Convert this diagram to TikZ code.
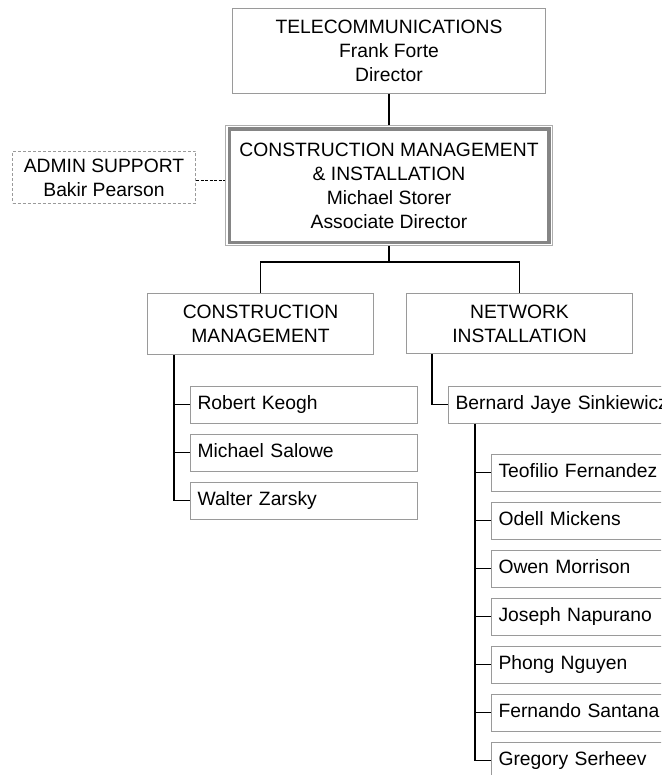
\documentclass[tikz,border=0pt]{standalone}
\usepackage{fontspec}
\setmainfont{Liberation Sans}
\definecolor{boxgray}{HTML}{9A9A9A}
\definecolor{thickgray}{HTML}{858585}
\begin{document}
\begin{tikzpicture}[x=1pt,y=-1pt,
  font=\fontsize{19.3}{24}\selectfont,
  cbox/.style={draw=boxgray, line width=1pt, anchor=north west, align=center, inner sep=2pt},
  pbox/.style={draw=boxgray, line width=1pt, anchor=north west, inner xsep=7pt, inner ysep=0pt,
     text width=213pt, align=left, minimum width=227pt, minimum height=36.5pt,
     text height=14pt, text depth=4pt},
  conn/.style={draw=black, line width=1.1pt}]
\useasboundingbox (0,0) rectangle (661,775);
\clip (0,0) rectangle (661,775);

\node[cbox, minimum width=313pt, minimum height=85pt] (telecom) at (232,8)
  {TELECOMMUNICATIONS\\Frank Forte\\Director};
\node[cbox, draw=boxgray!80, minimum width=327pt, minimum height=120pt] (main) at (225,125)
  {CONSTRUCTION MANAGEMENT\\\& INSTALLATION\\Michael Storer\\Associate Director};
\draw[thickgray, line width=3.5pt] ([shift={(4.5,4)}]main.north west) rectangle ([shift={(-4,-3.5)}]main.south east);
\node[cbox, dashed, dash pattern=on 3pt off 2pt, minimum width=183pt, minimum height=52pt] (admin) at (12,151)
  {ADMIN SUPPORT\\Bakir Pearson};
\node[cbox, minimum width=226pt, minimum height=61pt] (cm) at (147,293)
  {CONSTRUCTION\\MANAGEMENT};
\node[cbox, minimum width=226pt, minimum height=60pt] (ni) at (406,293)
  {NETWORK\\INSTALLATION};

\node[pbox] (robert) at (190,386) {Robert Keogh};
\node[pbox] (michael) at (190,434) {Michael Salowe};
\node[pbox] (walter) at (190,482) {Walter Zarsky};

\node[pbox] (bernard) at (448,386) {Bernard Jaye Sinkiewicz};

\node[pbox] (teofilio) at (491,454) {Teofilio Fernandez};
\node[pbox] (odell) at (491,502) {Odell Mickens};
\node[pbox] (owen) at (491,550) {Owen Morrison};
\node[pbox] (joseph) at (491,598) {Joseph Napurano};
\node[pbox] (phong) at (491,646) {Phong Nguyen};
\node[pbox] (fernando) at (491,694) {Fernando Santana};
\node[pbox] (gregory) at (491,742) {Gregory Serheev};

% connectors
\draw[conn] (telecom.south) -- (main.north);
\coordinate (bar) at (main.south |- 0,262);
\draw[conn] (main.south) -- (bar);
\draw[conn] (cm.north) |- (bar) -| (ni.north);
\draw[conn, dash pattern=on 3pt off 1.5pt] ([yshift=-3pt]admin.east) -- ([yshift=-3pt]admin.east -| main.west);

\draw[conn] ([xshift=27pt]cm.south west) |- (walter.west);
\foreach \n in {robert,michael}
  \draw[conn] (\n.west) -- ++(-16,0);

\draw[conn] ([xshift=26pt]ni.south west) |- (bernard.west);

\draw[conn] ([xshift=27pt]bernard.south west) |- (gregory.west);
\foreach \n in {teofilio,odell,owen,joseph,phong,fernando}
  \draw[conn] (\n.west) -- ++(-16,0);
\end{tikzpicture}
\end{document}
